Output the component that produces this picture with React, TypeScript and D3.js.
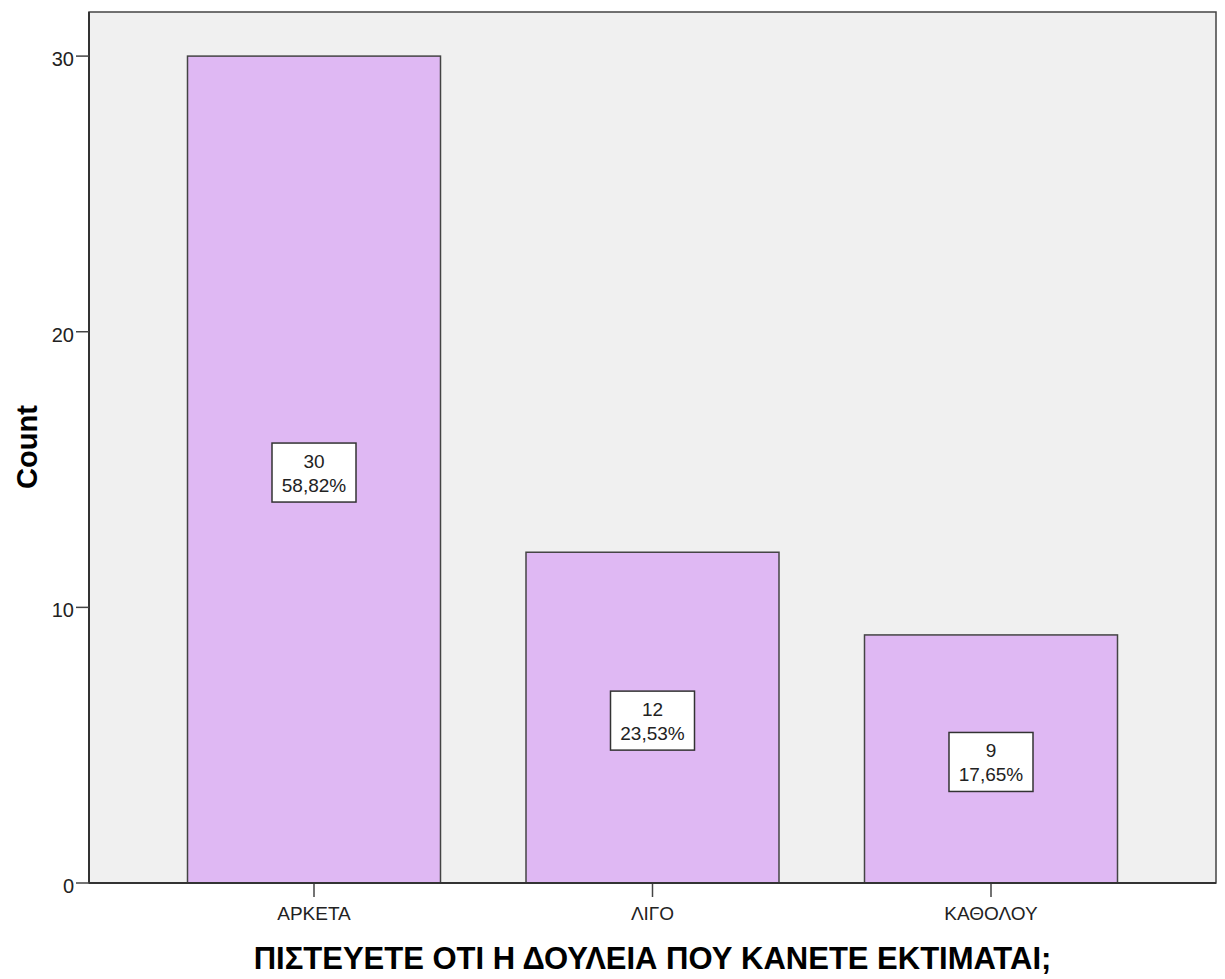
import React from "react";
import * as d3 from "d3";

const categories = ["ΑΡΚΕΤΑ", "ΛΙΓΟ", "ΚΑΘΟΛΟΥ"];
const counts = [30, 12, 9];
const percents = ["58,82%", "23,53%", "17,65%"];
const yTicks = [0, 10, 20, 30];
const xTitle = "ΠΙΣΤΕΥΕΤΕ ΟΤΙ Η ΔΟΥΛΕΙΑ ΠΟΥ ΚΑΝΕΤΕ ΕΚΤΙΜΑΤΑΙ;";
const yTitle = "Count";

const W = 1225, H = 979;
const left = 89, right = 1216, top = 12, bottom = 883;

export default function App() {
  const x = d3.scaleBand<string>().domain(categories).range([left, right]).paddingInner(0.2526).paddingOuter(0.291);
  const y = d3.scaleLinear().domain([0, 31.6]).range([bottom, top]);
  const font = "Arial, 'Liberation Sans', Helvetica, sans-serif";
  return (
    <svg width={W} height={H} style={{ position: "absolute", left: 0, top: 0, background: "#fff" }} fontFamily={font}>
      <rect x={left} y={top} width={right - left} height={bottom - top} fill="#f0f0f0" stroke="#444" strokeWidth={1.5} />
      {categories.map((c, i) => {
        const bx = x(c)!;
        const bw = x.bandwidth();
        const cx = bx + bw / 2;
        const cy = y(counts[i] / 2) + 3;
        const boxW = 84, boxH = 59;
        return (
          <g key={c}>
            <rect x={bx} y={y(counts[i])} width={bw} height={bottom - y(counts[i])} fill="#dfb8f3" stroke="#444" strokeWidth={1.5} />
            <rect x={cx - boxW / 2} y={cy - boxH / 2} width={boxW} height={boxH} fill="#fff" stroke="#333" strokeWidth={1.5} />
            <text x={cx} y={cy - 5} textAnchor="middle" fontSize={19} fill="#222">{counts[i]}</text>
            <text x={cx} y={cy + 19} textAnchor="middle" fontSize={19} fill="#222">{percents[i]}</text>
            <line x1={cx} x2={cx} y1={bottom} y2={bottom + 14} stroke="#444" strokeWidth={1.5} />
            <text x={cx} y={bottom + 37} textAnchor="middle" fontSize={19} fill="#222">{c}</text>
          </g>
        );
      })}
      <line x1={left} x2={right} y1={bottom} y2={bottom} stroke="#333" strokeWidth={2} />
      <line x1={left} x2={left} y1={top} y2={bottom} stroke="#333" strokeWidth={2} />
      {yTicks.map((t) => (
        <g key={t}>
          <line x1={left - 13} x2={left} y1={y(t)} y2={y(t)} stroke="#444" strokeWidth={1.5} />
          <text x={left - 15} y={y(t) + 10} textAnchor="end" fontSize={20} fill="#222">{t}</text>
        </g>
      ))}
      <text x={(left + right) / 2} y={969} textAnchor="middle" fontSize={31} fontWeight="bold" fill="#000">{xTitle}</text>
      <text transform={`translate(37, 447) rotate(-90)`} textAnchor="middle" fontSize={29} fontWeight="bold" fill="#000">{yTitle}</text>
    </svg>
  );
}
